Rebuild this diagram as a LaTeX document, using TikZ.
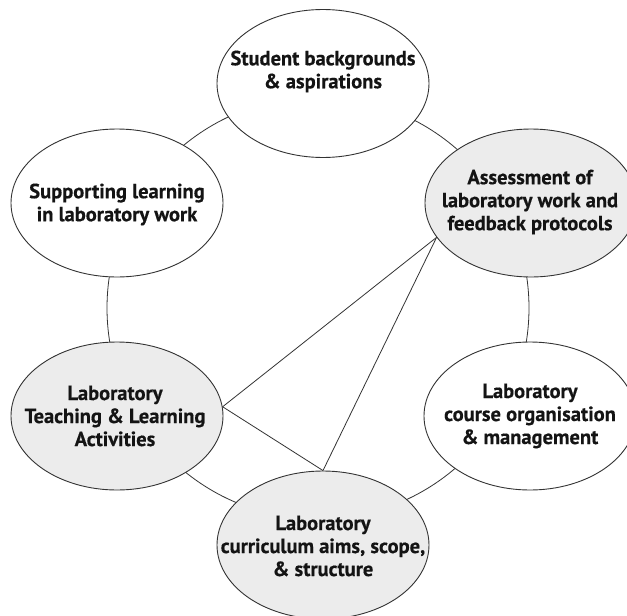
\documentclass[tikz,border=0pt]{standalone}
\usepackage{fontspec}
\setmainfont{PT Sans}[BoldFont={PT Sans Bold},BoldFeatures={FakeBold=0.4}]
\usetikzlibrary{shapes.geometric}
\definecolor{bubgrey}{HTML}{ECECEC}
\definecolor{edgecol}{HTML}{333333}
\begin{document}
\begin{tikzpicture}[x=1pt,y=-1pt,
  bub/.style={ellipse, draw=edgecol, line width=0.9pt, minimum width=212pt, minimum height=148pt, inner sep=0pt, fill=white},
  gbub/.style={bub, fill=bubgrey},
  txt/.style={align=center, font=\fontsize{20.5}{23}\selectfont\bfseries, text=black!92, inner sep=0pt},
  link/.style={draw=edgecol, line width=0.8pt}]
\useasboundingbox (0,0) rectangle (627,616);
\clip (0,0) rectangle (627,616);
\fill[white] (0,0) rectangle (627,616);
\node[circle, draw=edgecol, line width=0.8pt, minimum size=422pt, inner sep=0pt] (ring) at (318,308) {};
% bubbles
\node[bub]  (stu) at (323,83.5) {};
\node[bub]  (sup) at (117,203) {};
\node[gbub] (asm) at (531,203) {};
\node[gbub] (tea) at (117,416) {};
\node[bub]  (org) at (530,416) {};
\node[gbub] (cur) at (323,545) {};
% texts
\node[txt] (stut) at (323,71.5) {Student backgrounds\\\& aspirations};
\node[txt] (supt) at (117,204.5) {Supporting learning\\in laboratory work};
\node[txt] (asmt) at (530,202) {Assessment of\\laboratory work and\\feedback protocols};
\node[txt] (teat) at (115,416) {Laboratory\\Teaching \& Learning\\Activities};
\node[txt] (orgt) at (530,416) {Laboratory\\course organisation\\\& management};
\node[txt] (curt) at (323,546) {Laboratory\\curriculum aims, scope,\\\& structure};
% links
\draw[link] (asm.200) -- (tea.5);
\draw[link] (asm.200) -- (cur.north);
\draw[link] (tea.5) -- (cur.north);
\end{tikzpicture}
\end{document}
